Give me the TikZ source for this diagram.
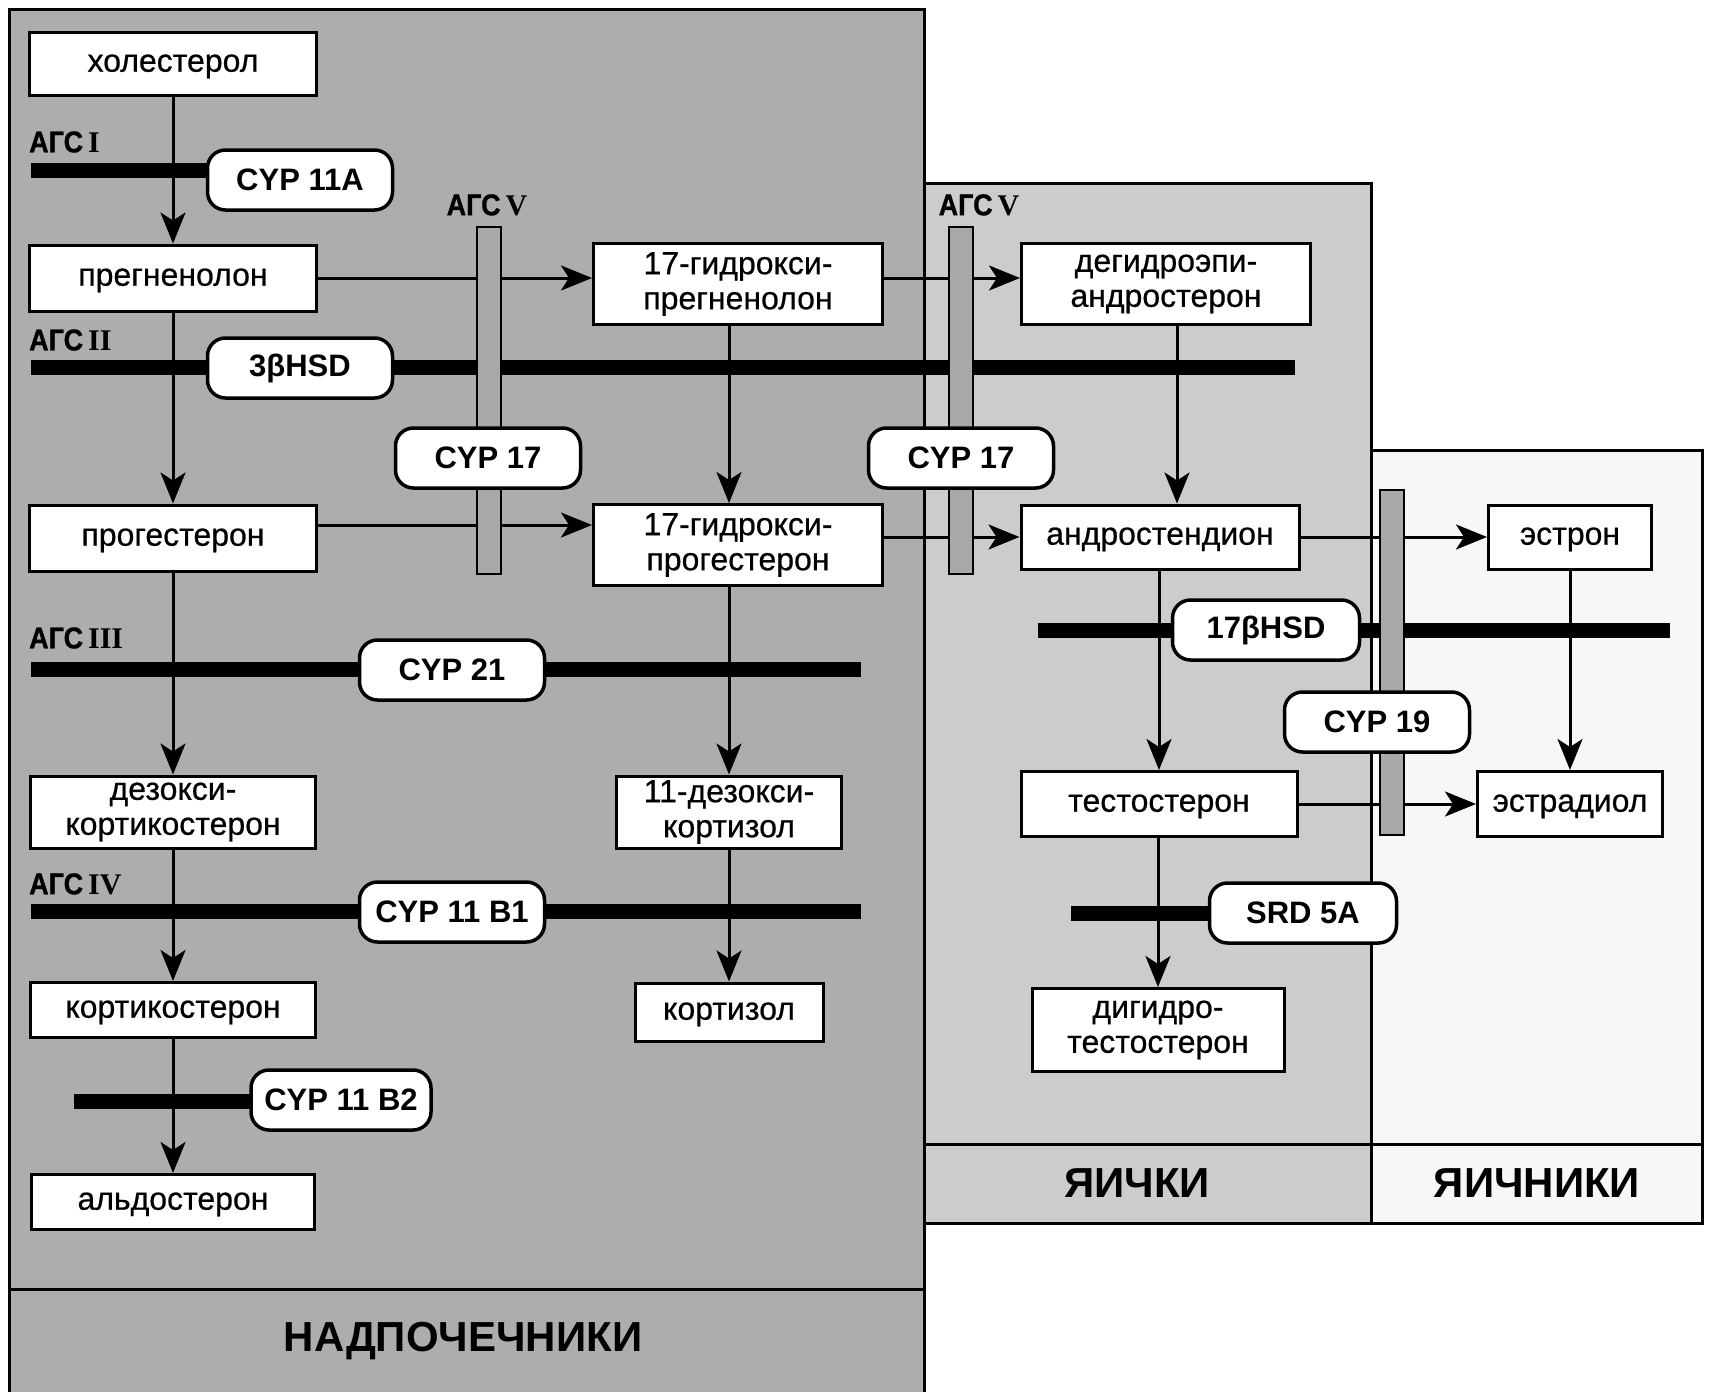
\documentclass[tikz,border=0pt]{standalone}
\usepackage{fontspec}
\setmainfont{Liberation Sans}
\newfontfamily\boxfont{Liberation Sans}[FakeBold=0.6]
\newfontfamily\romfont{Liberation Serif}
\newfontfamily\agcfont{Liberation Sans Bold}[FakeBold=1,FakeStretch=0.9]
\usetikzlibrary{arrows.meta}
\definecolor{adr}{gray}{0.68}
\definecolor{tes}{gray}{0.80}
\definecolor{ova}{gray}{0.97}
\definecolor{vbarc}{gray}{0.66}
\begin{document}
\begin{tikzpicture}[x=1pt,y=-1pt,
  stbox/.style={draw, line width=3pt, fill=white, align=center, inner sep=0pt,
    font=\boxfont\fontsize{32}{35}\selectfont, execute at begin node={\vphantom{А}}},
  pill/.style={draw, line width=3.5pt, fill=white, rounded corners=18pt, inner sep=0pt,
    minimum width=185pt, minimum height=60pt, font=\bfseries\fontsize{31}{32}\selectfont,
    execute at begin node={\vphantom{А}}},
  agc/.style={inner sep=0pt, anchor=west, font=\agcfont\fontsize{30}{30}\selectfont},
  agcv/.style={inner sep=0pt, font=\agcfont\fontsize{30}{30}\selectfont},
  organ/.style={inner sep=0pt, font=\bfseries\fontsize{42}{44}\selectfont},
  arr/.style={line width=3pt, -{Stealth[length=31pt,width=25pt,inset=8pt]}},
  hbar/.style={line width=15pt},
  vbar/.style={draw, line width=2.5pt, fill=vbarc},
  panel/.style={line width=3pt}]
\useasboundingbox (0,0) rectangle (1709,1392);
% panels
\draw[panel, fill=ova] (1371,450) rectangle (1702,1223);
\draw[panel] (1371,1144) -- (1702,1144);
\draw[panel, fill=tes] (924,183) rectangle (1371,1223);
\draw[panel] (924,1144) -- (1371,1144);
\fill[adr] (9,9) rectangle (924,1392);
\draw[panel] (9,1392) -- (9,9) -- (924,9) -- (924,1392);
\draw[panel] (9,1289) -- (924,1289);
\node[organ] (nadp) at (463,1341) {НАДПОЧЕЧНИКИ};
\node[organ] (yaichki) at (1137,1183) {ЯИЧКИ};
\node[organ] (yaichn) at (1537,1183) {ЯИЧНИКИ};
% black enzyme bars
\draw[hbar] (31,170) -- (218,170);
\draw[hbar] (31,367) -- (1295,367);
\draw[hbar] (31,669) -- (861,669);
\draw[hbar] (31,911) -- (861,911);
\draw[hbar] (74,1101) -- (262,1101);
\draw[hbar] (1038,630) -- (1670,630);
\draw[hbar] (1071,913) -- (1221,913);
% labels
\node[agc] (agc1) at (29,142) {АГС\,{\romfont\bfseries I}};
\node[agc] (agc2) at (29,340) {АГС\,{\romfont\bfseries II}};
\node[agc] (agc3) at (29,638) {АГС\,{\romfont\bfseries III}};
\node[agc] (agc4) at (29,884) {АГС\,{\romfont\bfseries IV}};
\node[agcv] (agc5a) at (487,205) {АГС\,{\romfont\bfseries V}};
\node[agcv] (agc5b) at (979,205) {АГС\,{\romfont\bfseries V}};
% boxes
\node[stbox, minimum width=287, minimum height=63] (chol) at (173,64) {холестерол};
\node[stbox, minimum width=287, minimum height=66] (preg) at (173,278) {прегненолон};
\node[stbox, minimum width=287, minimum height=66] (prog) at (173,538) {прогестерон};
\node[stbox, minimum width=285, minimum height=72] (doc) at (173,812) {дезокси-\\кортикостерон};
\node[stbox, minimum width=285, minimum height=55] (cort) at (173,1010) {кортикостерон};
\node[stbox, minimum width=283, minimum height=55] (aldo) at (173,1202) {альдостерон};
\node[stbox, minimum width=289, minimum height=81] (ohpreg) at (738,284) {17-гидрокси-\\прегненолон};
\node[stbox, minimum width=289, minimum height=81] (ohprog) at (738,545) {17-гидрокси-\\прогестерон};
\node[stbox, minimum width=225, minimum height=72] (doxcort) at (729,812) {11-дезокси-\\кортизол};
\node[stbox, minimum width=188, minimum height=58] (cortisol) at (729,1012) {кортизол};
\node[stbox, minimum width=289, minimum height=81] (dhea) at (1166,284) {дегидроэпи-\\андростерон};
\node[stbox, minimum width=278, minimum height=64] (andro) at (1160,537) {андростендион};
\node[stbox, minimum width=276, minimum height=65] (testo) at (1159,804) {тестостерон};
\node[stbox, minimum width=252, minimum height=83] (dht) at (1158,1030) {дигидро-\\тестостерон};
\node[stbox, minimum width=163, minimum height=64] (estrone) at (1570,537) {эстрон};
\node[stbox, minimum width=185, minimum height=65] (estradiol) at (1570,804) {эстрадиол};
% arrows
\coordinate (cx) at (1177,0);
\coordinate (cy) at (0,525);
\coordinate (p1) at (prog.east |- cy);
\draw[arr] (chol.south) -- (preg.north);
\draw[arr] (preg.south) -- (prog.north);
\draw[arr] (prog.south) -- (doc.north);
\draw[arr] (doc.south) -- (cort.north);
\draw[arr] (cort.south) -- (aldo.north);
\draw[arr] (ohpreg.south -| doxcort.north) -- (ohprog.north -| doxcort.north);
\draw[arr] (ohprog.south -| doxcort.north) -- (doxcort.north);
\draw[arr] (doxcort.south) -- (cortisol.north);
\draw[arr] (preg.east) -- (preg.east -| ohpreg.west);
\draw[arr] (ohpreg.east |- preg.east) -- (dhea.west |- preg.east);
\draw[arr] (p1) -- (p1 -| ohprog.west);
\draw[arr] (ohprog.east |- andro.west) -- (andro.west);
\draw[arr] (dhea.south -| cx) -- (andro.north -| cx);
\draw[arr] (andro.south -| testo.north) -- (testo.north);
\draw[arr] (testo.south -| dht.north) -- (dht.north);
\draw[arr] (andro.east) -- (estrone.west);
\draw[arr] (testo.east) -- (estradiol.west |- testo.east);
\draw[arr] (estrone.south -| estradiol.north) -- (estradiol.north);
% grey vertical bars
\draw[vbar] (477,227) rectangle (501,574);
\draw[vbar] (949,227) rectangle (973,574);
\draw[vbar] (1380,490) rectangle (1404,835);
% enzyme pills
\node[pill] (cyp11a) at (300,180) {CYP 11A};
\node[pill] (hsd3) at (300,368) {3βHSD};
\node[pill] (cyp17a) at (488,458) {CYP 17};
\node[pill] (cyp17b) at (961,458) {CYP 17};
\node[pill] (cyp21) at (452,670) {CYP 21};
\node[pill] (cyp11b1) at (452,912) {CYP 11 B1};
\node[pill, minimum width=180] (cyp11b2) at (341,1100) {CYP 11 B2};
\node[pill, minimum width=187] (hsd17) at (1266,630) {17βHSD};
\node[pill] (cyp19) at (1377,722) {CYP 19};
\node[pill, minimum width=187] (srd5a) at (1303,913) {SRD 5A};
\end{tikzpicture}
\end{document}
